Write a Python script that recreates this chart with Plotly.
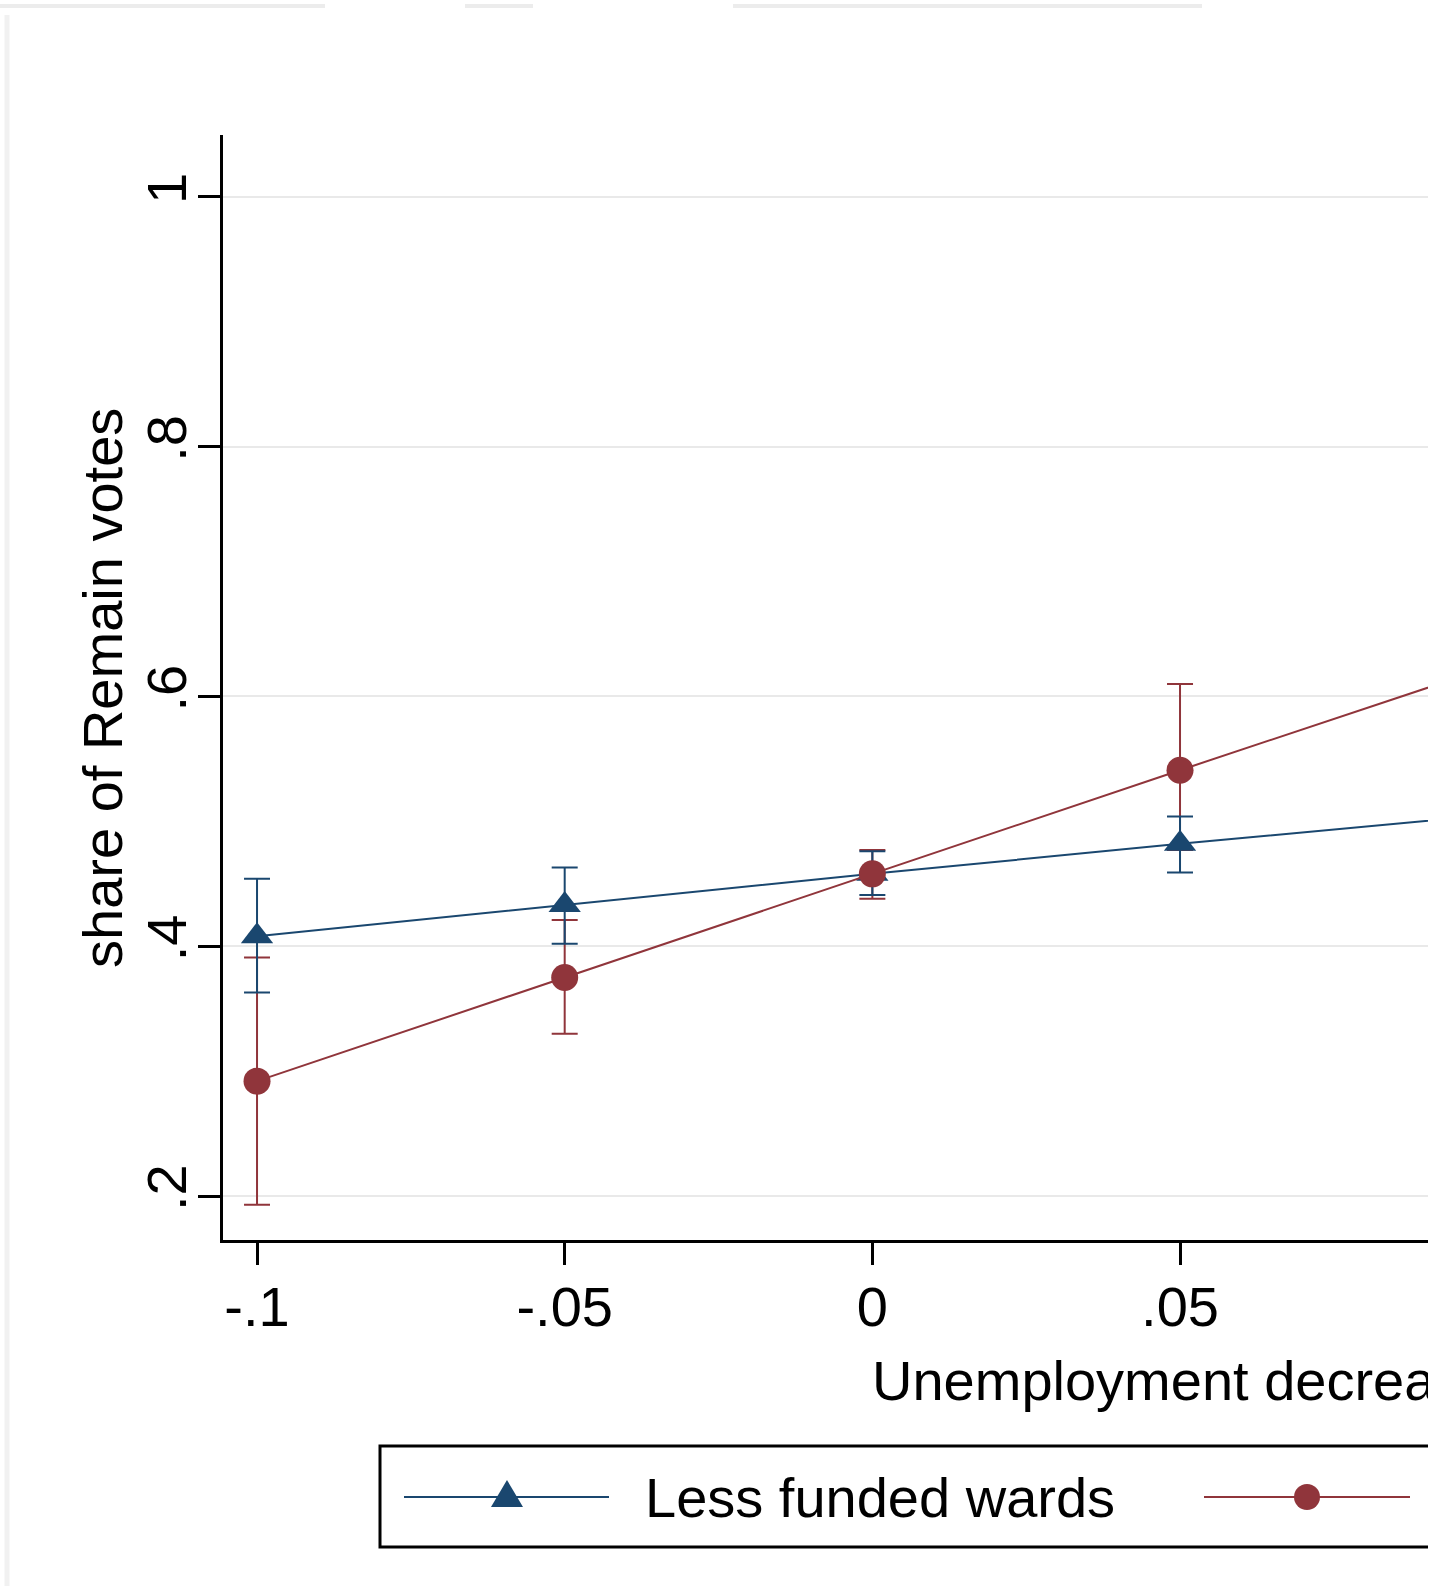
import plotly.graph_objects as go

# ---- data ----
unemp_change = [-0.10, -0.05, 0.00, 0.05, 0.10]

less_funded_mean = [0.408, 0.433, 0.458, 0.482, 0.505]
less_funded_low = [0.363, 0.402, 0.441, 0.459, 0.470]
less_funded_high = [0.454, 0.463, 0.476, 0.504, 0.540]

more_funded_mean = [0.292, 0.375, 0.458, 0.541, 0.623]
more_funded_low = [0.193, 0.330, 0.438, 0.477, 0.520]
more_funded_high = [0.391, 0.421, 0.477, 0.610, 0.725]

x_tick_vals = [-0.10, -0.05, 0.00, 0.05]
x_tick_text = ["-.1", "-.05", "0", ".05"]
y_tick_vals = [0.2, 0.4, 0.6, 0.8, 1.0]
y_tick_text = [".2", ".4", ".6", ".8", "1"]

series_names = ["Less funded wards", "More funded wards"]
x_title = "Unemployment decrease"
y_title = "share of Remain votes"

# ---- styling ----
BLUE = "#1a476f"
RED = "#90353b"
FONT = "Liberation Sans, Arial, sans-serif"
FS = 56

W, H = 1428, 1591
L, R, T, B = 223, 0, 135, 351
PW, PH = W - L - R, H - T - B


def px(xp):
    return (xp - L) / PW


def py(yp):
    return (H - B - yp) / PH


def err(mean, lo, hi):
    return dict(type="data", symmetric=False,
                array=[h - m for m, h in zip(mean, hi)],
                arrayminus=[m - l for m, l in zip(mean, lo)])


fig = go.Figure()

# confidence intervals first (drawn underneath the connected lines)
for mean, lo, hi, col in [(more_funded_mean, more_funded_low, more_funded_high, RED),
                          (less_funded_mean, less_funded_low, less_funded_high, BLUE)]:
    e = err(mean, lo, hi)
    e.update(color=col, thickness=2, width=13)
    fig.add_trace(go.Scatter(x=unemp_change, y=mean, mode="markers",
                             marker=dict(size=1, color=col, opacity=0),
                             error_y=e, showlegend=False, hoverinfo="skip"))

fig.add_trace(go.Scatter(x=unemp_change, y=less_funded_mean, mode="lines+markers",
                         name=series_names[0],
                         line=dict(color=BLUE, width=2),
                         marker=dict(symbol="triangle-up", size=28, color=BLUE)))
fig.add_trace(go.Scatter(x=unemp_change, y=more_funded_mean, mode="lines+markers",
                         name=series_names[1],
                         line=dict(color=RED, width=2),
                         marker=dict(symbol="circle", size=27, color=RED)))

shapes = []
annotations = []

# legend (drawn manually, Stata style)
lx0, ly0, lx1, ly1 = 380, 1446, 1500, 1547
shapes.append(dict(type="rect", xref="paper", yref="paper",
                   x0=px(lx0), x1=px(lx1), y0=py(ly1), y1=py(ly0),
                   line=dict(color="black", width=3), fillcolor="white"))
yl = 1497
shapes.append(dict(type="line", xref="paper", yref="paper",
                   x0=px(404), x1=px(609), y0=py(yl), y1=py(yl),
                   line=dict(color=BLUE, width=2)))
tcx = 507
shapes.append(dict(type="path", xref="paper", yref="paper",
                   path="M {:.5f},{:.5f} L {:.5f},{:.5f} L {:.5f},{:.5f} Z".format(
                       px(tcx - 16), py(yl + 10), px(tcx + 16), py(yl + 10), px(tcx), py(yl - 17)),
                   line=dict(color=BLUE, width=0), fillcolor=BLUE))
shapes.append(dict(type="line", xref="paper", yref="paper",
                   x0=px(1204), x1=px(1410), y0=py(yl), y1=py(yl),
                   line=dict(color=RED, width=2)))
ccx = 1307
shapes.append(dict(type="circle", xref="paper", yref="paper",
                   x0=px(ccx - 13), x1=px(ccx + 13), y0=py(yl + 13), y1=py(yl - 13),
                   line=dict(color=RED, width=0), fillcolor=RED))
annotations.append(dict(text=series_names[0], xref="paper", yref="paper",
                        x=px(643), y=py(1497), xanchor="left", yanchor="middle",
                        showarrow=False, font=dict(family=FONT, size=FS, color="black")))
annotations.append(dict(text=series_names[1], xref="paper", yref="paper",
                        x=px(1443), y=py(1497), xanchor="left", yanchor="middle",
                        showarrow=False, font=dict(family=FONT, size=FS, color="black")))

# x axis title (left part of a centred title that is cut by the crop)
annotations.append(dict(text=x_title, xref="paper", yref="paper",
                        x=px(870), y=py(1380), xanchor="left", yanchor="middle",
                        showarrow=False, font=dict(family=FONT, size=FS, color="black")))

# y axis title
annotations.append(dict(text=y_title, xref="paper", yref="paper",
                        x=px(102), y=py(688), xanchor="center", yanchor="middle",
                        textangle=-90, showarrow=False,
                        font=dict(family=FONT, size=FS, color="black")))

# faint scan artefacts along the top / left edge
for a, b in [(0, 325), (465, 533), (733, 1202)]:
    shapes.append(dict(type="line", xref="paper", yref="paper", layer="below",
                       x0=px(a), x1=px(b), y0=py(6), y1=py(6),
                       line=dict(color="#ececec", width=4)))
shapes.append(dict(type="line", xref="paper", yref="paper", layer="below",
                   x0=px(7), x1=px(7), y0=py(15), y1=py(1586),
                   line=dict(color="#f1f1f1", width=5)))

fig.update_layout(
    width=W, height=H,
    margin=dict(l=L, r=R, t=T, b=B, pad=0),
    paper_bgcolor="white", plot_bgcolor="white",
    showlegend=False,
    font=dict(family=FONT, size=FS, color="black"),
    shapes=shapes, annotations=annotations,
    xaxis=dict(range=[-0.10553, 0.0903], tickvals=x_tick_vals, ticktext=x_tick_text,
               showgrid=False, zeroline=False, showline=True, linecolor="black",
               linewidth=3, ticks="outside", ticklen=22, tickwidth=3, tickcolor="black",
               ticklabelstandoff=-6,
               tickfont=dict(family=FONT, size=FS, color="black")),
    yaxis=dict(range=[0.1648, 1.0496], tickvals=y_tick_vals, ticktext=y_tick_text,
               showgrid=True, gridcolor="#e9e9e9", gridwidth=2, zeroline=False,
               showline=True, linecolor="black", linewidth=3, ticks="outside",
               ticklen=22, tickwidth=3, tickcolor="black", tickangle=-90,
               ticklabelstandoff=-10,
               tickfont=dict(family=FONT, size=FS, color="black")),
)

fig.write_html("out.html", config={"displayModeBar": False},
               post_script="document.body.style.margin='0';")
